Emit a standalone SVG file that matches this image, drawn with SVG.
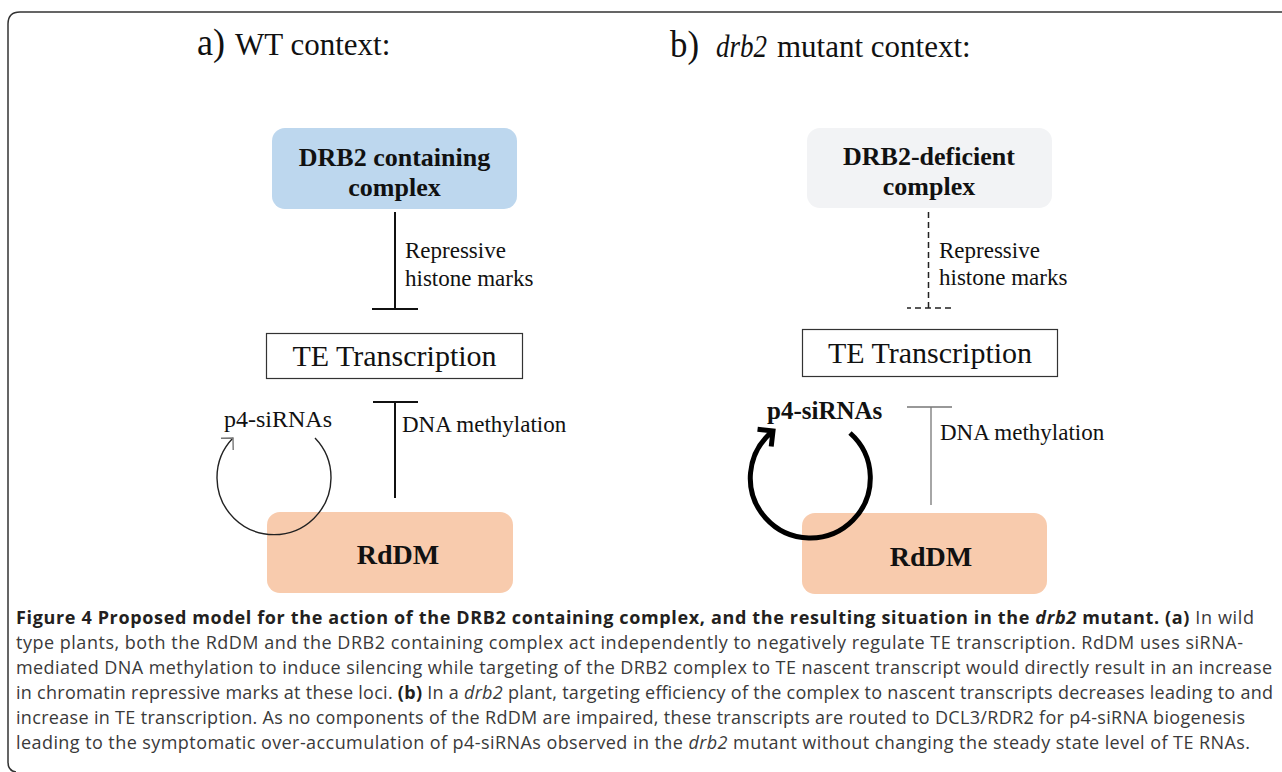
<svg xmlns="http://www.w3.org/2000/svg" width="1282" height="772" viewBox="0 0 1282 772">
<style>
.serif{font-family:"Liberation Serif","Times New Roman",serif;fill:#111}
.title{font-size:31px}
.big{font-size:38px}
.lbl{font-size:23px}
.bold{font-weight:bold}
.box{font-size:26px;font-weight:bold;text-anchor:middle}
.te{font-size:30px;text-anchor:middle}
.rd{font-size:28px;font-weight:bold;text-anchor:middle}
.cap{font-family:"Open Sans","Noto Sans","Liberation Sans",sans-serif;font-size:18px;fill:#3a3a3a}
.capb{font-weight:bold;fill:#231f20}
.inh{stroke:#111;stroke-width:2;fill:none}
.dash{stroke:#222;stroke-width:1.5;fill:none;stroke-dasharray:6 4}
.thin{stroke:#777;stroke-width:1.3;fill:none}
</style>
<defs>
<marker id="headThin" markerUnits="userSpaceOnUse" markerWidth="20" markerHeight="20" viewBox="-12 -10 14 20" refX="0" refY="0" orient="auto">
<path d="M -8.5 -8.5 L 0 0 L -8.5 8.5" fill="none" stroke="#777" stroke-width="1.4"/>
</marker>
<marker id="headThick" markerUnits="userSpaceOnUse" markerWidth="30" markerHeight="30" viewBox="-16 -15 20 30" refX="0" refY="0" orient="auto">
<path d="M -11 -11 L 0 0 L -11 11" fill="none" stroke="#000" stroke-width="5" stroke-linejoin="miter"/>
</marker>
</defs>
<rect width="1282" height="772" fill="#fff"/>
<path d="M 1282 12 H 20 Q 8 12 8 24 V 762 Q 8 771 16 772" fill="none" stroke="#333" stroke-width="1.5"/>

<text class="serif" y="55"><tspan class="big" x="197" textLength="28" lengthAdjust="spacingAndGlyphs">a)</tspan><tspan class="title" x="235">WT context:</tspan></text>
<text class="serif" y="57"><tspan class="big" x="670" textLength="29" lengthAdjust="spacingAndGlyphs">b)</tspan><tspan class="title" x="716" font-style="italic" textLength="51" lengthAdjust="spacingAndGlyphs">drb2</tspan><tspan class="title" x="777">mutant context:</tspan></text>

<g id="wt-drb2-complex">
<rect x="272" y="128" width="245" height="81" rx="13" fill="#bdd7ee"/>
<text class="serif box" x="394.5" y="166">DRB2 containing</text>
<text class="serif box" x="394.5" y="196">complex</text>
</g>
<g id="wt-te">
<rect x="266.5" y="333.5" width="256" height="45" fill="#fff" stroke="#333" stroke-width="1.2"/>
<text class="serif te" x="394.5" y="366">TE Transcription</text>
</g>
<g id="wt-rddm">
<rect x="267" y="512" width="246" height="81" rx="13" fill="#f8cbad"/>
<text class="serif rd" x="398" y="564">RdDM</text>
</g>

<g id="mut-drb2-complex">
<rect x="807" y="128" width="245" height="80" rx="13" fill="#f2f3f5"/>
<text class="serif box" x="929" y="165">DRB2-deficient</text>
<text class="serif box" x="929" y="195">complex</text>
</g>
<g id="mut-te">
<rect x="802.5" y="329.5" width="255" height="47" fill="#fff" stroke="#333" stroke-width="1.2"/>
<text class="serif te" x="930" y="363">TE Transcription</text>
</g>
<g id="mut-rddm">
<rect x="802" y="513" width="245" height="81" rx="13" fill="#f8cbad"/>
<text class="serif rd" x="931" y="566">RdDM</text>
</g>

<g id="connectors">
<path class="inh" d="M 395 212 V 309 M 372 309 H 418"/>
<path class="inh" d="M 395 498 V 402 M 373 402 H 418"/>
<path d="M 315 438 A 57 57 0 1 1 233 438" fill="none" stroke="#222" stroke-width="1.4" marker-end="url(#headThin)"/>

<path class="dash" d="M 928.5 212 V 308"/>
<path class="dash" d="M 907 308 H 953" stroke-dashoffset="2"/>
<path class="thin" d="M 931 505 V 407 M 907 407 H 952"/>
<path d="M 850 433 A 60 60 0 1 1 773 431" fill="none" stroke="#000" stroke-width="5" marker-end="url(#headThick)"/>
</g>

<g id="labels">
<text class="serif lbl" x="405" y="258">Repressive</text>
<text class="serif lbl" x="405" y="286">histone marks</text>
<text class="serif lbl" x="402" y="432">DNA methylation</text>
<text class="serif" font-size="24" x="224" y="427">p4-siRNAs</text>
<text class="serif lbl" x="939" y="258">Repressive</text>
<text class="serif lbl" x="939" y="285">histone marks</text>
<text class="serif lbl" x="940" y="440">DNA methylation</text>
<text class="serif bold" font-size="25" x="767" y="419">p4-siRNAs</text>
</g>

<g id="caption">
<text class="cap" x="16" y="624" textLength="1238" lengthAdjust="spacing"><tspan class="capb">Figure 4 Proposed model for the action of the DRB2 containing complex, and the resulting situation in the <tspan font-style="italic">drb2</tspan> mutant. (a)</tspan> In wild</text>
<text class="cap" x="16" y="649" textLength="1227" lengthAdjust="spacing">type plants, both the RdDM and the DRB2 containing complex act independently to negatively regulate TE transcription. RdDM uses siRNA-</text>
<text class="cap" x="16" y="674" textLength="1256" lengthAdjust="spacing">mediated DNA methylation to induce silencing while targeting of the DRB2 complex to TE nascent transcript would directly result in an increase</text>
<text class="cap" x="16" y="699" textLength="1257" lengthAdjust="spacing">in chromatin repressive marks at these loci. <tspan class="capb">(b)</tspan> In a <tspan font-style="italic">drb2</tspan> plant, targeting efficiency of the complex to nascent transcripts decreases leading to and</text>
<text class="cap" x="16" y="724" textLength="1229" lengthAdjust="spacing">increase in TE transcription. As no components of the RdDM are impaired, these transcripts are routed to DCL3/RDR2 for p4-siRNA biogenesis</text>
<text class="cap" x="16" y="749" textLength="1234" lengthAdjust="spacing">leading to the symptomatic over-accumulation of p4-siRNAs observed in the <tspan font-style="italic">drb2</tspan> mutant without changing the steady state level of TE RNAs.</text>
</g>
</svg>
